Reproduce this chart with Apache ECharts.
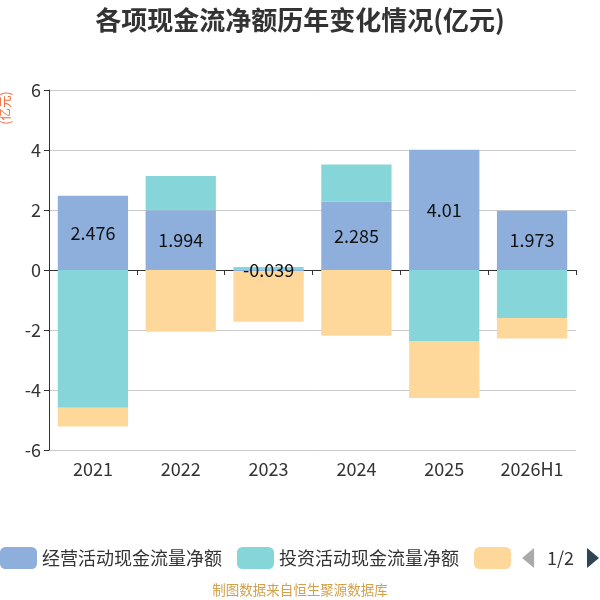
<!DOCTYPE html>
<html><head><meta charset="utf-8">
<script src="https://cdn.jsdelivr.net/npm/echarts@6/dist/echarts.min.js"></script>
<style>html,body{margin:0;padding:0;background:#fff}#c{width:600px;height:600px}</style>
</head><body><div id="c"></div>
<script>
const categories = ['2021','2022','2023','2024','2025','2026H1'];
const operating = [2.476, 1.994, -0.039, 2.285, 4.01, 1.973];
const investing = [-4.59, 1.14, 0.10, 1.23, -2.37, -1.60];
const financing = [-0.63, -2.06, -1.69, -2.19, -1.90, -0.68];
const seriesNames = ['经营活动现金流量净额','投资活动现金流量净额','筹资活动现金流量净额'];
const yTicks = [-6, 6, 2];

const chart = echarts.init(document.getElementById('c'));
const font = '"Noto Sans CJK SC","Noto Sans",sans-serif';
chart.setOption({
  textStyle:{fontFamily:font},
  title:{text:'各项现金流净额历年变化情况(亿元)',left:'center',top:2,
    textStyle:{fontSize:26,fontWeight:'bold',color:'#333',fontFamily:font}},
  grid:{left:49,right:24,top:90,bottom:150,containLabel:false},
  legend:{type:'scroll',bottom:26,left:0,right:0,padding:[5,1,5,0],itemWidth:37,itemHeight:22,itemGap:15,
    textStyle:{fontSize:18,color:'#333'},pageIconSize:[12,20],pageButtonGap:8,pageButtonItemGap:5,
    pageTextStyle:{fontSize:18,color:'#333'},
    pageIconColor:'#2f4554',pageIconInactiveColor:'#aaa'},
  graphic:[
    {type:'text',left:'center',bottom:3,style:{text:'制图数据来自恒生聚源数据库',fill:'#d4a04c',fontSize:13.5,fontFamily:font}},
    {type:'text',x:5,y:108,rotation:Math.PI/2,style:{text:'(亿元)',fill:'#f26b3a',fontSize:12.5,align:'center',verticalAlign:'middle',fontFamily:font}}
  ],
  xAxis:{type:'category',data:categories,
    axisLine:{onZero:true,lineStyle:{color:'#333'}},
    axisTick:{show:true,lineStyle:{color:'#333'}},
    axisLabel:{fontSize:18,color:'#333',margin:10},
    position:'bottom'},
  yAxis:{type:'value',min:yTicks[0],max:yTicks[1],interval:yTicks[2],
    axisLine:{show:true,lineStyle:{color:'#333'}},
    axisTick:{show:true,lineStyle:{color:'#333'}},
    axisLabel:{fontSize:18,color:'#333'},
    splitLine:{lineStyle:{color:'#ccc'}}},
  series:[
    {name:seriesNames[0],type:'bar',stack:'a',data:operating,barWidth:'80%',
     itemStyle:{color:'#8eaedb'},
     label:{show:true,position:'inside',color:'#111',fontSize:18}},
    {name:seriesNames[1],type:'bar',stack:'a',data:investing,itemStyle:{color:'#86d5d8'}},
    {name:seriesNames[2],type:'bar',stack:'a',data:financing,itemStyle:{color:'#fed89a'}}
  ]
});
</script></body></html>
